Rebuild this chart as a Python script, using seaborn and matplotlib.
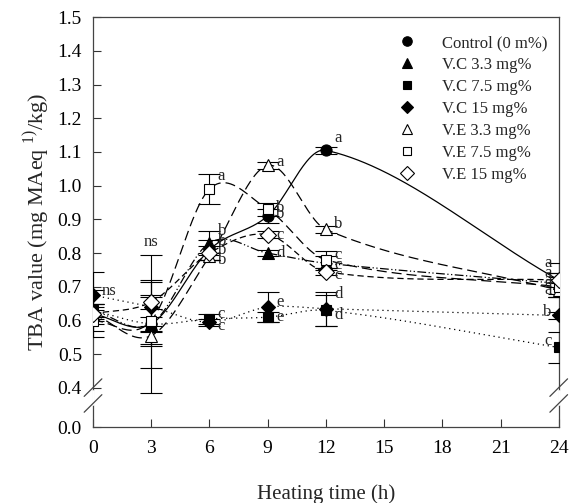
import numpy as np
import pandas as pd
import matplotlib
matplotlib.use("Agg")
import matplotlib.pyplot as plt
import matplotlib.transforms as mtransforms
import seaborn as sns

# heating time (h)
hours = [0, 3, 6, 9, 12, 24]

series_names = ["Control (0 m%)", "V.C 3.3 mg%", "V.C 7.5 mg%", "V.C 15 mg%",
                "V.E 3.3 mg%", "V.E 7.5 mg%", "V.E 15 mg%"]

# TBA value (mg MAeq/kg)
control = [0.620, 0.590, 0.810, 0.910, 1.105, 0.720]
vc_33 = [0.630, 0.590, 0.830, 0.800, 0.770, 0.710]
vc_75 = [0.630, 0.590, 0.605, 0.610, 0.630, 0.520]
vc_15 = [0.675, 0.640, 0.595, 0.640, 0.635, 0.615]
ve_33 = [0.620, 0.555, 0.790, 1.060, 0.870, 0.690]
ve_75 = [0.600, 0.600, 0.990, 0.930, 0.780, 0.700]
ve_15 = [0.620, 0.655, 0.800, 0.855, 0.745, 0.720]

# standard deviations
control_sd = [0.070, 0.205, 0.030, 0.020, 0.010, 0.050]
vc_33_sd = [0.020, 0.020, 0.035, 0.010, 0.020, 0.030]
vc_75_sd = [0.020, 0.130, 0.015, 0.015, 0.045, 0.045]
vc_15_sd = [0.070, 0.075, 0.010, 0.045, 0.050, 0.010]
ve_33_sd = [0.030, 0.030, 0.010, 0.010, 0.010, 0.020]
ve_75_sd = [0.030, 0.070, 0.045, 0.020, 0.025, 0.030]
ve_15_sd = [0.020, 0.020, 0.020, 0.010, 0.010, 0.020]

# significance letters
control_lab = ["", "", "b", "b", "a", "a"]
vc_33_lab = ["", "", "b", "d", "c", "a"]
vc_75_lab = ["", "", "c", "e", "d", "c"]
vc_15_lab = ["", "", "c", "e", "d", "b"]
ve_33_lab = ["", "", "b", "a", "b", "a"]
ve_75_lab = ["", "", "a", "b", "c", "a"]
ve_15_lab = ["", "", "b", "c", "c", "a"]
ns_hours = [0, 3]

values = [control, vc_33, vc_75, vc_15, ve_33, ve_75, ve_15]
sds = [control_sd, vc_33_sd, vc_75_sd, vc_15_sd, ve_33_sd, ve_75_sd, ve_15_sd]
labels = [control_lab, vc_33_lab, vc_75_lab, vc_15_lab, ve_33_lab, ve_75_lab, ve_15_lab]

# styles
markers = ["o", "^", "s", "D", "^", "s", "D"]
filled = [True, True, True, True, False, False, False]
msizes = [8, 8, 7, 7, 8, 7.5, 8]
lstyles = ["-", (0, (7, 2, 1, 2, 1, 2)), (0, (1, 3)), (0, (1, 3)),
           (0, (8, 4)), (0, (8, 4)), (0, (5, 3))]
# vertical shift of letters (data units)
lab_dy = [[0, 0, 0.000, 0.005, 0.035, 0.050],
          [0, 0, 0.035, 0.000, -0.005, 0.030],
          [0, 0, 0.015, 0.000, -0.015, 0.020],
          [0, 0, -0.010, 0.015, 0.045, 0.010],
          [0, 0, -0.010, 0.010, 0.015, 0.000],
          [0, 0, 0.040, 0.005, 0.015, 0.010],
          [0, 0, 0.035, 0.000, -0.010, 0.000]]


def smooth_curve(x, y, xs):
    # cubic Hermite with finite-difference tangents
    x = np.asarray(x, float)
    y = np.asarray(y, float)
    n = len(x)
    m = np.zeros(n)
    m[0] = (y[1] - y[0]) / (x[1] - x[0])
    m[-1] = (y[-1] - y[-2]) / (x[-1] - x[-2])
    for i in range(1, n - 1):
        m[i] = (y[i + 1] - y[i - 1]) / (x[i + 1] - x[i - 1])
    out = np.zeros_like(xs)
    for j, xv in enumerate(xs):
        i = min(np.searchsorted(x, xv, side="right") - 1, n - 2)
        h = x[i + 1] - x[i]
        s = (xv - x[i]) / h
        h00 = 2 * s**3 - 3 * s**2 + 1
        h10 = s**3 - 2 * s**2 + s
        h01 = -2 * s**3 + 3 * s**2
        h11 = s**3 - s**2
        out[j] = h00 * y[i] + h10 * h * m[i] + h01 * y[i + 1] + h11 * h * m[i + 1]
    return out


sns.set_style("ticks")
plt.rcParams["font.family"] = ["Liberation Serif", "DejaVu Serif"]
plt.rcParams["mathtext.fontset"] = "custom"
plt.rcParams["mathtext.rm"] = "Liberation Serif"

fig = plt.figure(figsize=(5.76, 5.03), dpi=100)
ax = fig.add_axes([0.1615, 0.151, 0.8085, 0.815])

ybot = 0.284
xs = np.linspace(0, 24, 400)
for i, name in enumerate(series_names):
    curve = pd.DataFrame({"t": xs, "v": smooth_curve(hours, values[i], xs)})
    sns.lineplot(data=curve, x="t", y="v", ax=ax, color="black", lw=0.9,
                 linestyle=lstyles[i], zorder=2)

for i, name in enumerate(series_names):
    ax.errorbar(hours, values[i], yerr=sds[i], fmt="none", ecolor="black",
                elinewidth=0.8, capsize=8, capthick=0.8, zorder=3)
    ax.plot(hours, values[i], linestyle="none", marker=markers[i], ms=msizes[i],
            mfc="black" if filled[i] else "white", mec="black", mew=0.8,
            label=name, zorder=4)
    for j, t in enumerate(hours):
        if labels[i][j]:
            right = t < 24
            ax.annotate(labels[i][j], (t, values[i][j] + lab_dy[i][j]),
                        xytext=(6 if right else -5, 0), textcoords="offset points",
                        ha="left" if right else "right", va="center", fontsize=12)

# ns labels
for t in ns_hours:
    j = hours.index(t)
    if t == 0:
        top = max(v[j] for v in values)
        ax.annotate("ns", (t, top), xytext=(6, 3), textcoords="offset points",
                    ha="left", va="center", fontsize=12)
    else:
        top = max(v[j] + s[j] for v, s in zip(values, sds))
        ax.annotate("ns", (t, top), xytext=(0, 9), textcoords="offset points",
                    ha="center", va="center", fontsize=12)

ax.set_xlim(0, 24)
ax.set_ylim(ybot, 1.5)
ax.set_xticks([0, 3, 6, 9, 12, 15, 18, 21, 24])
yt = [ybot] + list(np.round(np.arange(0.4, 1.51, 0.1), 1))
ax.set_yticks(yt)
ax.set_yticklabels(["0.0"] + [f"{v:.1f}" for v in yt[1:]])
ax.tick_params(direction="in", length=6, width=0.8, labelsize=14,
               top=False, right=False, colors="#333333", labelcolor="black")
ax.tick_params(axis="x", pad=9)
ax.tick_params(axis="y", pad=8)
for s in ax.spines.values():
    s.set_visible(True)
    s.set_color("#444444")
    s.set_linewidth(0.9)

ax.set_xlabel("Heating time (h)", fontsize=15, labelpad=20)
ax.set_ylabel("TBA value (mg MAeq $^{1)}$/kg)", fontsize=16, labelpad=4)

# axis break marks
trans = mtransforms.blended_transform_factory(ax.transAxes, ax.transData)
for xa in (0, 1):
    ax.plot([xa, xa], [0.352, 0.392], transform=trans, color="white", lw=2,
            clip_on=False, zorder=5)
    for yc in (0.354, 0.401):
        ax.plot([xa - 0.019, xa + 0.019], [yc - 0.026, yc + 0.026],
                transform=trans, color="#444444", lw=0.9, clip_on=False, zorder=6)

leg = ax.legend(loc="upper right", bbox_to_anchor=(1.0, 0.983), frameon=False,
                fontsize=12, handletextpad=1.7, labelspacing=0.36,
                borderaxespad=0.0, handlelength=0.9, borderpad=0.65,
                markerscale=0.85)

fig.savefig("out.png", dpi=100)
